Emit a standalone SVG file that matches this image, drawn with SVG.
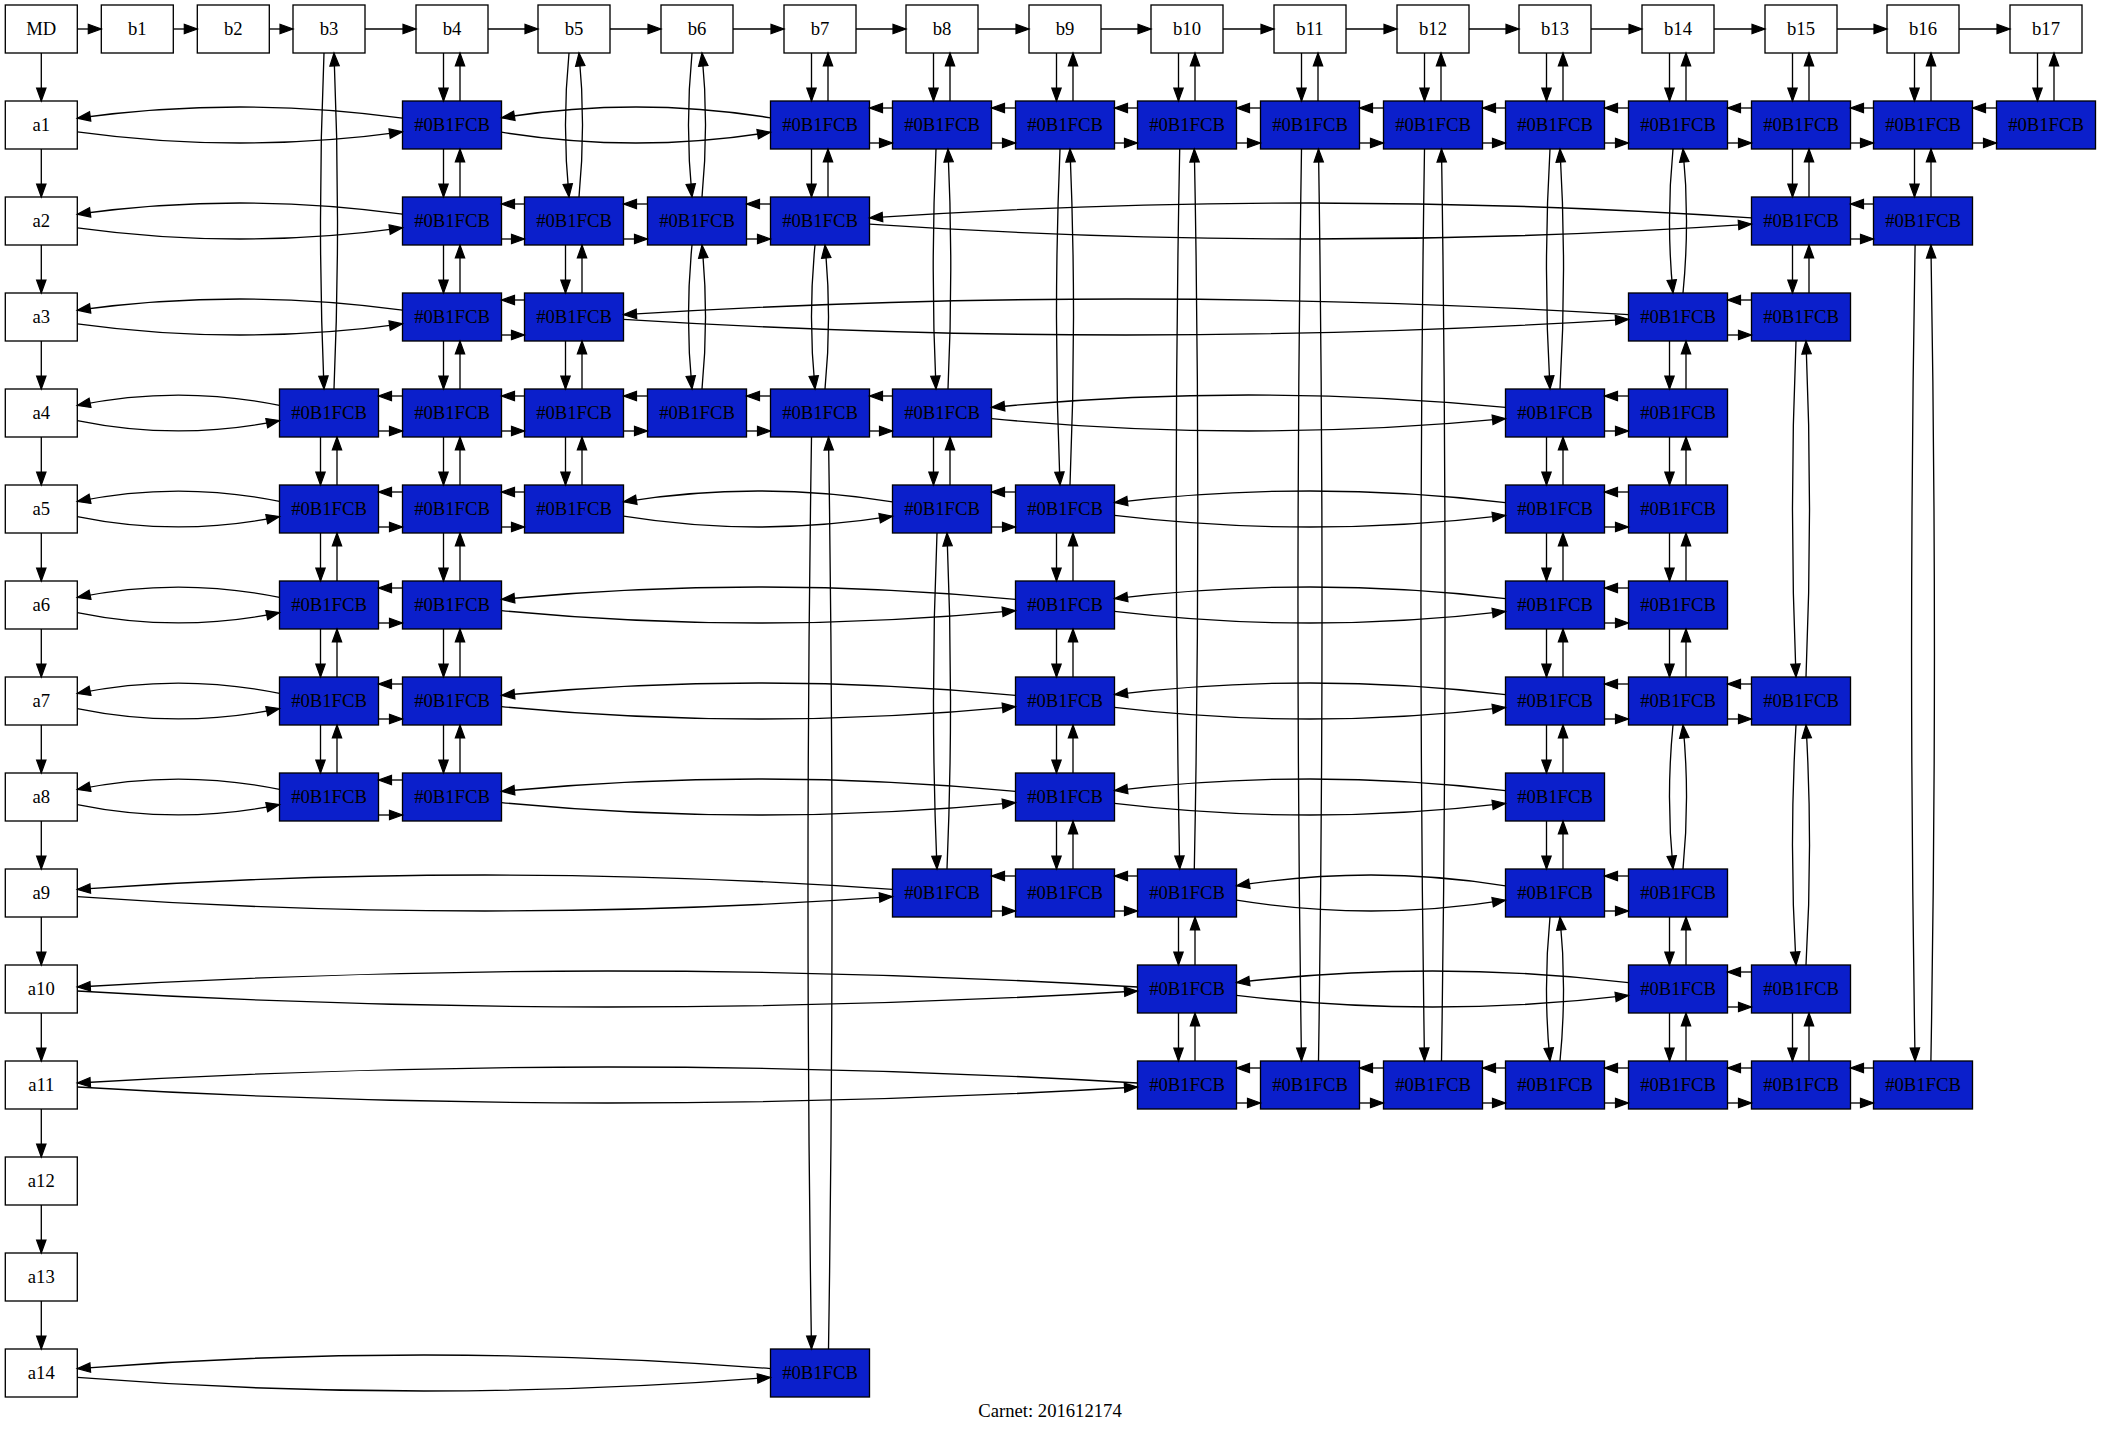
<svg xmlns="http://www.w3.org/2000/svg" width="2101" height="1433" viewBox="0 0 2101 1433">
<style>
.w rect{fill:#fff;stroke:#000;stroke-width:1.33}
.b rect{fill:#0B1FCB;stroke:#000;stroke-width:1.33}
text{font-family:"Liberation Serif","Times New Roman",serif;font-size:18.67px;text-anchor:middle;fill:#000}
.e path{fill:none;stroke:#000;stroke-width:1.33;marker-end:url(#ah)}
</style>
<defs>
<marker id="ah" markerUnits="userSpaceOnUse" markerWidth="16" markerHeight="12" viewBox="-1 -1 16 12" refX="13" refY="4.7" orient="auto" overflow="visible">
<path d="M0,0 L13,4.7 L0,9.4 z" fill="#000" stroke="#000" stroke-width="1.2"/>
</marker>
</defs>
<rect width="2101" height="1433" fill="#fff"/>
<g id="nodes">
<g id="MD" class="w"><rect x="5.3" y="5" width="72" height="48"/><text x="41.3" y="35">MD</text></g>
<g id="b1" class="w"><rect x="101.3" y="5" width="72" height="48"/><text x="137.3" y="35">b1</text></g>
<g id="b2" class="w"><rect x="197.3" y="5" width="72" height="48"/><text x="233.3" y="35">b2</text></g>
<g id="b3" class="w"><rect x="293" y="5" width="72" height="48"/><text x="329" y="35">b3</text></g>
<g id="b4" class="w"><rect x="416" y="5" width="72" height="48"/><text x="452" y="35">b4</text></g>
<g id="b5" class="w"><rect x="538" y="5" width="72" height="48"/><text x="574" y="35">b5</text></g>
<g id="b6" class="w"><rect x="661" y="5" width="72" height="48"/><text x="697" y="35">b6</text></g>
<g id="b7" class="w"><rect x="784" y="5" width="72" height="48"/><text x="820" y="35">b7</text></g>
<g id="b8" class="w"><rect x="906" y="5" width="72" height="48"/><text x="942" y="35">b8</text></g>
<g id="b9" class="w"><rect x="1029" y="5" width="72" height="48"/><text x="1065" y="35">b9</text></g>
<g id="b10" class="w"><rect x="1151" y="5" width="72" height="48"/><text x="1187" y="35">b10</text></g>
<g id="b11" class="w"><rect x="1274" y="5" width="72" height="48"/><text x="1310" y="35">b11</text></g>
<g id="b12" class="w"><rect x="1397" y="5" width="72" height="48"/><text x="1433" y="35">b12</text></g>
<g id="b13" class="w"><rect x="1519" y="5" width="72" height="48"/><text x="1555" y="35">b13</text></g>
<g id="b14" class="w"><rect x="1642" y="5" width="72" height="48"/><text x="1678" y="35">b14</text></g>
<g id="b15" class="w"><rect x="1765" y="5" width="72" height="48"/><text x="1801" y="35">b15</text></g>
<g id="b16" class="w"><rect x="1887" y="5" width="72" height="48"/><text x="1923" y="35">b16</text></g>
<g id="b17" class="w"><rect x="2010" y="5" width="72" height="48"/><text x="2046" y="35">b17</text></g>
<g id="a1" class="w"><rect x="5.3" y="101" width="72" height="48"/><text x="41.3" y="131">a1</text></g>
<g id="a2" class="w"><rect x="5.3" y="197" width="72" height="48"/><text x="41.3" y="227">a2</text></g>
<g id="a3" class="w"><rect x="5.3" y="293" width="72" height="48"/><text x="41.3" y="323">a3</text></g>
<g id="a4" class="w"><rect x="5.3" y="389" width="72" height="48"/><text x="41.3" y="419">a4</text></g>
<g id="a5" class="w"><rect x="5.3" y="485" width="72" height="48"/><text x="41.3" y="515">a5</text></g>
<g id="a6" class="w"><rect x="5.3" y="581" width="72" height="48"/><text x="41.3" y="611">a6</text></g>
<g id="a7" class="w"><rect x="5.3" y="677" width="72" height="48"/><text x="41.3" y="707">a7</text></g>
<g id="a8" class="w"><rect x="5.3" y="773" width="72" height="48"/><text x="41.3" y="803">a8</text></g>
<g id="a9" class="w"><rect x="5.3" y="869" width="72" height="48"/><text x="41.3" y="899">a9</text></g>
<g id="a10" class="w"><rect x="5.3" y="965" width="72" height="48"/><text x="41.3" y="995">a10</text></g>
<g id="a11" class="w"><rect x="5.3" y="1061" width="72" height="48"/><text x="41.3" y="1091">a11</text></g>
<g id="a12" class="w"><rect x="5.3" y="1157" width="72" height="48"/><text x="41.3" y="1187">a12</text></g>
<g id="a13" class="w"><rect x="5.3" y="1253" width="72" height="48"/><text x="41.3" y="1283">a13</text></g>
<g id="a14" class="w"><rect x="5.3" y="1349" width="72" height="48"/><text x="41.3" y="1379">a14</text></g>

<g id="a1b4" class="b"><rect x="402.5" y="101" width="99" height="48"/><text x="452" y="131">#0B1FCB</text></g>
<g id="a1b7" class="b"><rect x="770.5" y="101" width="99" height="48"/><text x="820" y="131">#0B1FCB</text></g>
<g id="a1b8" class="b"><rect x="892.5" y="101" width="99" height="48"/><text x="942" y="131">#0B1FCB</text></g>
<g id="a1b9" class="b"><rect x="1015.5" y="101" width="99" height="48"/><text x="1065" y="131">#0B1FCB</text></g>
<g id="a1b10" class="b"><rect x="1137.5" y="101" width="99" height="48"/><text x="1187" y="131">#0B1FCB</text></g>
<g id="a1b11" class="b"><rect x="1260.5" y="101" width="99" height="48"/><text x="1310" y="131">#0B1FCB</text></g>
<g id="a1b12" class="b"><rect x="1383.5" y="101" width="99" height="48"/><text x="1433" y="131">#0B1FCB</text></g>
<g id="a1b13" class="b"><rect x="1505.5" y="101" width="99" height="48"/><text x="1555" y="131">#0B1FCB</text></g>
<g id="a1b14" class="b"><rect x="1628.5" y="101" width="99" height="48"/><text x="1678" y="131">#0B1FCB</text></g>
<g id="a1b15" class="b"><rect x="1751.5" y="101" width="99" height="48"/><text x="1801" y="131">#0B1FCB</text></g>
<g id="a1b16" class="b"><rect x="1873.5" y="101" width="99" height="48"/><text x="1923" y="131">#0B1FCB</text></g>
<g id="a1b17" class="b"><rect x="1996.5" y="101" width="99" height="48"/><text x="2046" y="131">#0B1FCB</text></g>

<g id="a2b4" class="b"><rect x="402.5" y="197" width="99" height="48"/><text x="452" y="227">#0B1FCB</text></g>
<g id="a2b5" class="b"><rect x="524.5" y="197" width="99" height="48"/><text x="574" y="227">#0B1FCB</text></g>
<g id="a2b6" class="b"><rect x="647.5" y="197" width="99" height="48"/><text x="697" y="227">#0B1FCB</text></g>
<g id="a2b7" class="b"><rect x="770.5" y="197" width="99" height="48"/><text x="820" y="227">#0B1FCB</text></g>
<g id="a2b15" class="b"><rect x="1751.5" y="197" width="99" height="48"/><text x="1801" y="227">#0B1FCB</text></g>
<g id="a2b16" class="b"><rect x="1873.5" y="197" width="99" height="48"/><text x="1923" y="227">#0B1FCB</text></g>

<g id="a3b4" class="b"><rect x="402.5" y="293" width="99" height="48"/><text x="452" y="323">#0B1FCB</text></g>
<g id="a3b5" class="b"><rect x="524.5" y="293" width="99" height="48"/><text x="574" y="323">#0B1FCB</text></g>
<g id="a3b14" class="b"><rect x="1628.5" y="293" width="99" height="48"/><text x="1678" y="323">#0B1FCB</text></g>
<g id="a3b15" class="b"><rect x="1751.5" y="293" width="99" height="48"/><text x="1801" y="323">#0B1FCB</text></g>

<g id="a4b3" class="b"><rect x="279.5" y="389" width="99" height="48"/><text x="329" y="419">#0B1FCB</text></g>
<g id="a4b4" class="b"><rect x="402.5" y="389" width="99" height="48"/><text x="452" y="419">#0B1FCB</text></g>
<g id="a4b5" class="b"><rect x="524.5" y="389" width="99" height="48"/><text x="574" y="419">#0B1FCB</text></g>
<g id="a4b6" class="b"><rect x="647.5" y="389" width="99" height="48"/><text x="697" y="419">#0B1FCB</text></g>
<g id="a4b7" class="b"><rect x="770.5" y="389" width="99" height="48"/><text x="820" y="419">#0B1FCB</text></g>
<g id="a4b8" class="b"><rect x="892.5" y="389" width="99" height="48"/><text x="942" y="419">#0B1FCB</text></g>
<g id="a4b13" class="b"><rect x="1505.5" y="389" width="99" height="48"/><text x="1555" y="419">#0B1FCB</text></g>
<g id="a4b14" class="b"><rect x="1628.5" y="389" width="99" height="48"/><text x="1678" y="419">#0B1FCB</text></g>

<g id="a5b3" class="b"><rect x="279.5" y="485" width="99" height="48"/><text x="329" y="515">#0B1FCB</text></g>
<g id="a5b4" class="b"><rect x="402.5" y="485" width="99" height="48"/><text x="452" y="515">#0B1FCB</text></g>
<g id="a5b5" class="b"><rect x="524.5" y="485" width="99" height="48"/><text x="574" y="515">#0B1FCB</text></g>
<g id="a5b8" class="b"><rect x="892.5" y="485" width="99" height="48"/><text x="942" y="515">#0B1FCB</text></g>
<g id="a5b9" class="b"><rect x="1015.5" y="485" width="99" height="48"/><text x="1065" y="515">#0B1FCB</text></g>
<g id="a5b13" class="b"><rect x="1505.5" y="485" width="99" height="48"/><text x="1555" y="515">#0B1FCB</text></g>
<g id="a5b14" class="b"><rect x="1628.5" y="485" width="99" height="48"/><text x="1678" y="515">#0B1FCB</text></g>

<g id="a6b3" class="b"><rect x="279.5" y="581" width="99" height="48"/><text x="329" y="611">#0B1FCB</text></g>
<g id="a6b4" class="b"><rect x="402.5" y="581" width="99" height="48"/><text x="452" y="611">#0B1FCB</text></g>
<g id="a6b9" class="b"><rect x="1015.5" y="581" width="99" height="48"/><text x="1065" y="611">#0B1FCB</text></g>
<g id="a6b13" class="b"><rect x="1505.5" y="581" width="99" height="48"/><text x="1555" y="611">#0B1FCB</text></g>
<g id="a6b14" class="b"><rect x="1628.5" y="581" width="99" height="48"/><text x="1678" y="611">#0B1FCB</text></g>

<g id="a7b3" class="b"><rect x="279.5" y="677" width="99" height="48"/><text x="329" y="707">#0B1FCB</text></g>
<g id="a7b4" class="b"><rect x="402.5" y="677" width="99" height="48"/><text x="452" y="707">#0B1FCB</text></g>
<g id="a7b9" class="b"><rect x="1015.5" y="677" width="99" height="48"/><text x="1065" y="707">#0B1FCB</text></g>
<g id="a7b13" class="b"><rect x="1505.5" y="677" width="99" height="48"/><text x="1555" y="707">#0B1FCB</text></g>
<g id="a7b14" class="b"><rect x="1628.5" y="677" width="99" height="48"/><text x="1678" y="707">#0B1FCB</text></g>
<g id="a7b15" class="b"><rect x="1751.5" y="677" width="99" height="48"/><text x="1801" y="707">#0B1FCB</text></g>

<g id="a8b3" class="b"><rect x="279.5" y="773" width="99" height="48"/><text x="329" y="803">#0B1FCB</text></g>
<g id="a8b4" class="b"><rect x="402.5" y="773" width="99" height="48"/><text x="452" y="803">#0B1FCB</text></g>
<g id="a8b9" class="b"><rect x="1015.5" y="773" width="99" height="48"/><text x="1065" y="803">#0B1FCB</text></g>
<g id="a8b13" class="b"><rect x="1505.5" y="773" width="99" height="48"/><text x="1555" y="803">#0B1FCB</text></g>

<g id="a9b8" class="b"><rect x="892.5" y="869" width="99" height="48"/><text x="942" y="899">#0B1FCB</text></g>
<g id="a9b9" class="b"><rect x="1015.5" y="869" width="99" height="48"/><text x="1065" y="899">#0B1FCB</text></g>
<g id="a9b10" class="b"><rect x="1137.5" y="869" width="99" height="48"/><text x="1187" y="899">#0B1FCB</text></g>
<g id="a9b13" class="b"><rect x="1505.5" y="869" width="99" height="48"/><text x="1555" y="899">#0B1FCB</text></g>
<g id="a9b14" class="b"><rect x="1628.5" y="869" width="99" height="48"/><text x="1678" y="899">#0B1FCB</text></g>

<g id="a10b10" class="b"><rect x="1137.5" y="965" width="99" height="48"/><text x="1187" y="995">#0B1FCB</text></g>
<g id="a10b14" class="b"><rect x="1628.5" y="965" width="99" height="48"/><text x="1678" y="995">#0B1FCB</text></g>
<g id="a10b15" class="b"><rect x="1751.5" y="965" width="99" height="48"/><text x="1801" y="995">#0B1FCB</text></g>

<g id="a11b10" class="b"><rect x="1137.5" y="1061" width="99" height="48"/><text x="1187" y="1091">#0B1FCB</text></g>
<g id="a11b11" class="b"><rect x="1260.5" y="1061" width="99" height="48"/><text x="1310" y="1091">#0B1FCB</text></g>
<g id="a11b12" class="b"><rect x="1383.5" y="1061" width="99" height="48"/><text x="1433" y="1091">#0B1FCB</text></g>
<g id="a11b13" class="b"><rect x="1505.5" y="1061" width="99" height="48"/><text x="1555" y="1091">#0B1FCB</text></g>
<g id="a11b14" class="b"><rect x="1628.5" y="1061" width="99" height="48"/><text x="1678" y="1091">#0B1FCB</text></g>
<g id="a11b15" class="b"><rect x="1751.5" y="1061" width="99" height="48"/><text x="1801" y="1091">#0B1FCB</text></g>
<g id="a11b16" class="b"><rect x="1873.5" y="1061" width="99" height="48"/><text x="1923" y="1091">#0B1FCB</text></g>

<g id="a14b7" class="b"><rect x="770.5" y="1349" width="99" height="48"/><text x="820" y="1379">#0B1FCB</text></g>
</g>

<g id="edges" class="e">
<!-- header chain -->
<path d="M77.3,29H101.3"/><path d="M173.3,29H197.3"/><path d="M269.3,29H293"/><path d="M365,29H416"/>
<path d="M488,29H538"/><path d="M610,29H661"/><path d="M733,29H784"/><path d="M856,29H906"/>
<path d="M978,29H1029"/><path d="M1101,29H1151"/><path d="M1223,29H1274"/><path d="M1346,29H1397"/>
<path d="M1469,29H1519"/><path d="M1591,29H1642"/><path d="M1714,29H1765"/><path d="M1837,29H1887"/>
<path d="M1959,29H2010"/>
<!-- a chain -->
<path d="M41.3,53V101"/><path d="M41.3,149V197"/><path d="M41.3,245V293"/><path d="M41.3,341V389"/>
<path d="M41.3,437V485"/><path d="M41.3,533V581"/><path d="M41.3,629V677"/><path d="M41.3,725V773"/>
<path d="M41.3,821V869"/><path d="M41.3,917V965"/><path d="M41.3,1013V1061"/><path d="M41.3,1109V1157"/>
<path d="M41.3,1205V1253"/><path d="M41.3,1301V1349"/>

<!-- row a1 -->
<path d="M402.5,118.2C294.1,103.3 185.7,103.3 77.3,118.2"/><path d="M77.3,131.8C185.7,146.7 294.1,146.7 402.5,131.8"/>
<path d="M770.5,117.8C680.8,103.4 591.2,103.4 501.5,117.8"/><path d="M501.5,132.2C591.2,146.6 680.8,146.6 770.5,132.2"/>
<path d="M892.5,108H869.5"/><path d="M869.5,143H892.5"/>
<path d="M1015.5,108H991.5"/><path d="M991.5,143H1015.5"/>
<path d="M1137.5,108H1114.5"/><path d="M1114.5,143H1137.5"/>
<path d="M1260.5,108H1236.5"/><path d="M1236.5,143H1260.5"/>
<path d="M1383.5,108H1359.5"/><path d="M1359.5,143H1383.5"/>
<path d="M1505.5,108H1482.5"/><path d="M1482.5,143H1505.5"/>
<path d="M1628.5,108H1604.5"/><path d="M1604.5,143H1628.5"/>
<path d="M1751.5,108H1727.5"/><path d="M1727.5,143H1751.5"/>
<path d="M1873.5,108H1850.5"/><path d="M1850.5,143H1873.5"/>
<path d="M1996.5,108H1972.5"/><path d="M1972.5,143H1996.5"/>
<!-- row a2 -->
<path d="M402.5,214.2C294.1,199.3 185.7,199.3 77.3,214.2"/><path d="M77.3,227.8C185.7,242.7 294.1,242.7 402.5,227.8"/>
<path d="M524.5,204H501.5"/><path d="M501.5,239H524.5"/>
<path d="M647.5,204H623.5"/><path d="M623.5,239H647.5"/>
<path d="M770.5,204H746.5"/><path d="M746.5,239H770.5"/>
<path d="M1751.5,217.9C1457.5,198 1163.5,198 869.5,217.9"/><path d="M869.5,224.1C1163.5,244 1457.5,244 1751.5,224.1"/>
<path d="M1873.5,204H1850.5"/><path d="M1850.5,239H1873.5"/>
<!-- row a3 -->
<path d="M402.5,310.2C294.1,295.3 185.7,295.3 77.3,310.2"/><path d="M77.3,323.8C185.7,338.7 294.1,338.7 402.5,323.8"/>
<path d="M524.5,300H501.5"/><path d="M501.5,335H524.5"/>
<path d="M1628.5,314.7C1293.5,293.8 958.5,293.8 623.5,314.7"/><path d="M623.5,319.3C958.5,340.2 1293.5,340.2 1628.5,319.3"/>
<path d="M1751.5,300H1727.5"/><path d="M1727.5,335H1751.5"/>
<!-- row a4 -->
<path d="M279.5,405.4C212.1,391.6 144.7,391.6 77.3,405.4"/><path d="M77.3,420.6C144.7,434.4 212.1,434.4 279.5,420.6"/>
<path d="M402.5,396H378.5"/><path d="M378.5,431H402.5"/>
<path d="M524.5,396H501.5"/><path d="M501.5,431H524.5"/>
<path d="M647.5,396H623.5"/><path d="M623.5,431H647.5"/>
<path d="M770.5,396H746.5"/><path d="M746.5,431H770.5"/>
<path d="M892.5,396H869.5"/><path d="M869.5,431H892.5"/>
<path d="M1505.5,407.4C1334.2,390.9 1162.8,390.9 991.5,407.4"/><path d="M991.5,418.6C1162.8,435.1 1334.2,435.1 1505.5,418.6"/>
<path d="M1628.5,396H1604.5"/><path d="M1604.5,431H1628.5"/>
<!-- row a5 -->
<path d="M279.5,501.4C212.1,487.6 144.7,487.6 77.3,501.4"/><path d="M77.3,516.6C144.7,530.4 212.1,530.4 279.5,516.6"/>
<path d="M402.5,492H378.5"/><path d="M378.5,527H402.5"/>
<path d="M524.5,492H501.5"/><path d="M501.5,527H524.5"/>
<path d="M892.5,501.8C802.8,487.4 713.2,487.4 623.5,501.8"/><path d="M623.5,516.2C713.2,530.6 802.8,530.6 892.5,516.2"/>
<path d="M1015.5,492H991.5"/><path d="M991.5,527H1015.5"/>
<path d="M1505.5,502.6C1375.2,487.1 1244.8,487.1 1114.5,502.6"/><path d="M1114.5,515.4C1244.8,530.9 1375.2,530.9 1505.5,515.4"/>
<path d="M1628.5,492H1604.5"/><path d="M1604.5,527H1628.5"/>
<!-- row a6 -->
<path d="M279.5,597.4C212.1,583.6 144.7,583.6 77.3,597.4"/><path d="M77.3,612.6C144.7,626.4 212.1,626.4 279.5,612.6"/>
<path d="M402.5,588H378.5"/><path d="M378.5,623H402.5"/>
<path d="M1015.5,599.4C844.2,582.9 672.8,582.9 501.5,599.4"/><path d="M501.5,610.6C672.8,627.1 844.2,627.1 1015.5,610.6"/>
<path d="M1505.5,598.6C1375.2,583.1 1244.8,583.1 1114.5,598.6"/><path d="M1114.5,611.4C1244.8,626.9 1375.2,626.9 1505.5,611.4"/>
<path d="M1628.5,588H1604.5"/><path d="M1604.5,623H1628.5"/>
<!-- row a7 -->
<path d="M279.5,693.4C212.1,679.6 144.7,679.6 77.3,693.4"/><path d="M77.3,708.6C144.7,722.4 212.1,722.4 279.5,708.6"/>
<path d="M402.5,684H378.5"/><path d="M378.5,719H402.5"/>
<path d="M1015.5,695.4C844.2,678.9 672.8,678.9 501.5,695.4"/><path d="M501.5,706.6C672.8,723.1 844.2,723.1 1015.5,706.6"/>
<path d="M1505.5,694.6C1375.2,679.1 1244.8,679.1 1114.5,694.6"/><path d="M1114.5,707.4C1244.8,722.9 1375.2,722.9 1505.5,707.4"/>
<path d="M1628.5,684H1604.5"/><path d="M1604.5,719H1628.5"/>
<path d="M1751.5,684H1727.5"/><path d="M1727.5,719H1751.5"/>
<!-- row a8 -->
<path d="M279.5,789.4C212.1,775.6 144.7,775.6 77.3,789.4"/><path d="M77.3,804.6C144.7,818.4 212.1,818.4 279.5,804.6"/>
<path d="M402.5,780H378.5"/><path d="M378.5,815H402.5"/>
<path d="M1015.5,791.4C844.2,774.9 672.8,774.9 501.5,791.4"/><path d="M501.5,802.6C672.8,819.1 844.2,819.1 1015.5,802.6"/>
<path d="M1505.5,790.6C1375.2,775.1 1244.8,775.1 1114.5,790.6"/><path d="M1114.5,803.4C1244.8,818.9 1375.2,818.9 1505.5,803.4"/>
<!-- row a9 -->
<path d="M892.5,889.4C620.8,870.2 349,870.2 77.3,889.4"/><path d="M77.3,896.6C349,915.8 620.8,915.8 892.5,896.6"/>
<path d="M1015.5,876H991.5"/><path d="M991.5,911H1015.5"/>
<path d="M1137.5,876H1114.5"/><path d="M1114.5,911H1137.5"/>
<path d="M1505.5,885.8C1415.8,871.4 1326.2,871.4 1236.5,885.8"/><path d="M1236.5,900.2C1326.2,914.6 1415.8,914.6 1505.5,900.2"/>
<path d="M1628.5,876H1604.5"/><path d="M1604.5,911H1628.5"/>
<!-- row a10 -->
<path d="M1137.5,987C784.1,965.7 430.7,965.7 77.3,987"/><path d="M77.3,991C430.7,1012.3 784.1,1012.3 1137.5,991"/>
<path d="M1628.5,982.6C1497.8,967.1 1367.2,967.1 1236.5,982.6"/><path d="M1236.5,995.4C1367.2,1010.9 1497.8,1010.9 1628.5,995.4"/>
<path d="M1751.5,972H1727.5"/><path d="M1727.5,1007H1751.5"/>
<!-- row a11 -->
<path d="M1137.5,1083C784.1,1061.7 430.7,1061.7 77.3,1083"/><path d="M77.3,1087C430.7,1108.3 784.1,1108.3 1137.5,1087"/>
<path d="M1260.5,1068H1236.5"/><path d="M1236.5,1103H1260.5"/>
<path d="M1383.5,1068H1359.5"/><path d="M1359.5,1103H1383.5"/>
<path d="M1505.5,1068H1482.5"/><path d="M1482.5,1103H1505.5"/>
<path d="M1628.5,1068H1604.5"/><path d="M1604.5,1103H1628.5"/>
<path d="M1751.5,1068H1727.5"/><path d="M1727.5,1103H1751.5"/>
<path d="M1873.5,1068H1850.5"/><path d="M1850.5,1103H1873.5"/>
<!-- row a14 -->
<path d="M770.5,1368.6C539.4,1350.5 308.4,1350.5 77.3,1368.6"/><path d="M77.3,1377.4C308.4,1395.5 539.4,1395.5 770.5,1377.4"/>

<!-- column b3 -->
<path d="M324,53C319.3,165 319.3,277 324,389"/><path d="M334,389C338.7,277 338.7,165 334,53"/>
<path d="M320.5,437V485"/><path d="M337,485V437"/>
<path d="M320.5,533V581"/><path d="M337,581V533"/>
<path d="M320.5,629V677"/><path d="M337,677V629"/>
<path d="M320.5,725V773"/><path d="M337,773V725"/>
<!-- column b4 -->
<path d="M443.5,53V101"/><path d="M460,101V53"/>
<path d="M443.5,149V197"/><path d="M460,197V149"/>
<path d="M443.5,245V293"/><path d="M460,293V245"/>
<path d="M443.5,341V389"/><path d="M460,389V341"/>
<path d="M443.5,437V485"/><path d="M460,485V437"/>
<path d="M443.5,533V581"/><path d="M460,581V533"/>
<path d="M443.5,629V677"/><path d="M460,677V629"/>
<path d="M443.5,725V773"/><path d="M460,773V725"/>
<!-- column b5 -->
<path d="M569,53C564.3,101 564.3,149 569,197"/><path d="M579,197C583.7,149 583.7,101 579,53"/>
<path d="M565.5,245V293"/><path d="M582,293V245"/>
<path d="M565.5,341V389"/><path d="M582,389V341"/>
<path d="M565.5,437V485"/><path d="M582,485V437"/>
<!-- column b6 -->
<path d="M692,53C687.3,101 687.3,149 692,197"/><path d="M702,197C706.7,149 706.7,101 702,53"/>
<path d="M692,245C687.3,293 687.3,341 692,389"/><path d="M702,389C706.7,341 706.7,293 702,245"/>
<!-- column b7 -->
<path d="M811.5,53V101"/><path d="M828,101V53"/>
<path d="M811.5,149V197"/><path d="M828,197V149"/>
<path d="M815,245C810.3,293 810.3,341 815,389"/><path d="M825,389C829.7,341 829.7,293 825,245"/>
<path d="M811.5,437C806.8,741 806.8,1045 811.5,1349"/><path d="M828.5,1349C833.2,1045 833.2,741 828.5,437"/>
<!-- column b8 -->
<path d="M933.5,53V101"/><path d="M950,101V53"/>
<path d="M936,149C932.3,229 932.3,309 936,389"/><path d="M948,389C951.7,309 951.7,229 948,149"/>
<path d="M933.5,437V485"/><path d="M950,485V437"/>
<path d="M937,533C932.3,645 932.3,757 937,869"/><path d="M947,869C951.7,757 951.7,645 947,533"/>
<!-- column b9 -->
<path d="M1056.5,53V101"/><path d="M1073,101V53"/>
<path d="M1060,149C1055.3,261 1055.3,373 1060,485"/><path d="M1070,485C1074.7,373 1074.7,261 1070,149"/>
<path d="M1056.5,533V581"/><path d="M1073,581V533"/>
<path d="M1056.5,629V677"/><path d="M1073,677V629"/>
<path d="M1056.5,725V773"/><path d="M1073,773V725"/>
<path d="M1056.5,821V869"/><path d="M1073,869V821"/>
<!-- column b10 -->
<path d="M1178.5,53V101"/><path d="M1195,101V53"/>
<path d="M1179.7,149C1175,389 1175,629 1179.7,869"/><path d="M1194.3,869C1199,629 1199,389 1194.3,149"/>
<path d="M1178.5,917V965"/><path d="M1195,965V917"/>
<path d="M1178.5,1013V1061"/><path d="M1195,1061V1013"/>
<!-- column b11 -->
<path d="M1301.5,53V101"/><path d="M1318,101V53"/>
<path d="M1301.5,149C1296.8,453 1296.8,757 1301.5,1061"/><path d="M1318.5,1061C1323.2,757 1323.2,453 1318.5,149"/>
<!-- column b12 -->
<path d="M1424.5,53V101"/><path d="M1441,101V53"/>
<path d="M1424.5,149C1419.8,453 1419.8,757 1424.5,1061"/><path d="M1441.5,1061C1446.2,757 1446.2,453 1441.5,149"/>
<!-- column b13 -->
<path d="M1546.5,53V101"/><path d="M1563,101V53"/>
<path d="M1550,149C1545.3,229 1545.3,309 1550,389"/><path d="M1560,389C1564.7,309 1564.7,229 1560,149"/>
<path d="M1546.5,437V485"/><path d="M1563,485V437"/>
<path d="M1546.5,533V581"/><path d="M1563,581V533"/>
<path d="M1546.5,629V677"/><path d="M1563,677V629"/>
<path d="M1546.5,725V773"/><path d="M1563,773V725"/>
<path d="M1546.5,821V869"/><path d="M1563,869V821"/>
<path d="M1550,917C1545.3,965 1545.3,1013 1550,1061"/><path d="M1560,1061C1564.7,1013 1564.7,965 1560,917"/>
<!-- column b14 -->
<path d="M1669.5,53V101"/><path d="M1686,101V53"/>
<path d="M1673,149C1668.3,197 1668.3,245 1673,293"/><path d="M1683,293C1687.7,245 1687.7,197 1683,149"/>
<path d="M1669.5,341V389"/><path d="M1686,389V341"/>
<path d="M1669.5,437V485"/><path d="M1686,485V437"/>
<path d="M1669.5,533V581"/><path d="M1686,581V533"/>
<path d="M1669.5,629V677"/><path d="M1686,677V629"/>
<path d="M1673,725C1668.3,773 1668.3,821 1673,869"/><path d="M1683,869C1687.7,821 1687.7,773 1683,725"/>
<path d="M1669.5,917V965"/><path d="M1686,965V917"/>
<path d="M1669.5,1013V1061"/><path d="M1686,1061V1013"/>
<!-- column b15 -->
<path d="M1792.5,53V101"/><path d="M1809,101V53"/>
<path d="M1792.5,149V197"/><path d="M1809,197V149"/>
<path d="M1792.5,245V293"/><path d="M1809,293V245"/>
<path d="M1796,341C1791.3,453 1791.3,565 1796,677"/><path d="M1806,677C1810.7,565 1810.7,453 1806,341"/>
<path d="M1796,725C1791.3,805 1791.3,885 1796,965"/><path d="M1806,965C1810.7,885 1810.7,805 1806,725"/>
<path d="M1792.5,1013V1061"/><path d="M1809,1061V1013"/>
<!-- column b16 -->
<path d="M1914.5,53V101"/><path d="M1931,101V53"/>
<path d="M1914.5,149V197"/><path d="M1931,197V149"/>
<path d="M1915.1,245C1910.4,517 1910.4,789 1915.1,1061"/><path d="M1930.9,1061C1935.6,789 1935.6,517 1930.9,245"/>
<!-- column b17 -->
<path d="M2037.5,53V101"/><path d="M2054,101V53"/>
</g>
<text id="caption" x="1050" y="1417">Carnet: 201612174</text>
</svg>
